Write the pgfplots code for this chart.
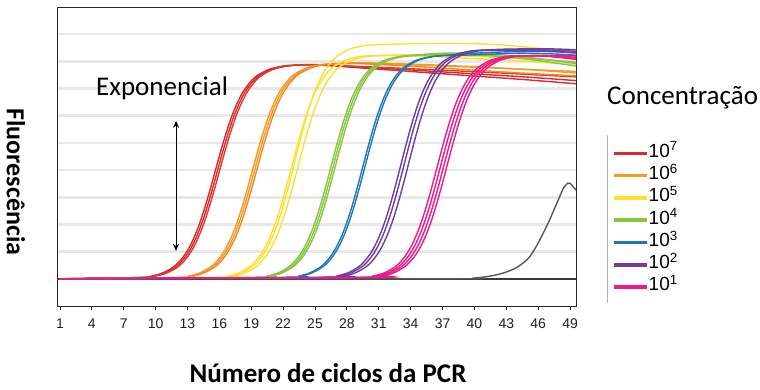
\documentclass[border=0pt]{standalone}
\usepackage{fontspec}
\setmainfont{Carlito}
\newfontfamily\arialfont{Liberation Sans}
\usepackage{pgfplots}
\pgfplotsset{compat=1.18}
\usetikzlibrary{arrows.meta}

\definecolor{cRed}{HTML}{DA2A2C}
\definecolor{cOrange}{HTML}{F29B26}
\definecolor{cYellow}{HTML}{FBE12C}
\definecolor{cGreen}{HTML}{8BC53F}
\definecolor{cBlue}{HTML}{1E78BE}
\definecolor{cPurple}{HTML}{6C3FA0}
\definecolor{cPink}{HTML}{EC1A8A}
\definecolor{cGrid}{HTML}{E8E8E8}
\definecolor{cNTC}{HTML}{3A3A3A}

\pgfplotsset{
  curve/.style={smooth, no marks, line width=1.4pt, forget plot},
}

\begin{document}
\begin{tikzpicture}[x=1pt,y=1pt]
\path[use as bounding box] (0pt,0pt) rectangle (760pt,390pt);
\begin{axis}[
  at={(57pt,84pt)}, anchor=south west,
  scale only axis, width=519pt, height=299pt,
  xmin=0.72, xmax=49.56, ymin=0, ymax=11,
  xtick={1,4,...,49}, xtick pos=bottom, tick align=outside,
  major tick length=4pt,
  ytick={1,...,10}, yticklabels={}, ytick style={draw=none},
  ymajorgrids, major grid style={cGrid, line width=2.5pt},
  axis line style={black!85, line width=0.8pt},
  xtick style={black!85, line width=0.8pt},
  /pgf/number format/assume math mode=true,
  xticklabel style={font=\arialfont\fontsize{14}{14}\selectfont, text=black!88, yshift=-5pt},
  legend image code/.code={\draw[#1] (0pt,0pt) -- (33pt,0pt);},
  legend cell align=left,
  legend style={at={(axis description cs:1.0694,0.5485)}, anchor=north west,
    draw=none, fill=none, inner sep=0pt, row sep=0pt,
    font=\arialfont\fontsize{19}{19}\selectfont,
    nodes={inner sep=0pt, text height=15pt, text depth=7.3pt}},
]
\addlegendimage{cRed, line width=3.5pt}
\addlegendimage{cOrange, line width=3.5pt}
\addlegendimage{cYellow, line width=3.5pt}
\addlegendimage{cGreen, line width=3.5pt}
\addlegendimage{cBlue, line width=3.5pt}
\addlegendimage{cPurple, line width=3.5pt}
\addlegendimage{cPink, line width=3.5pt}
\legend{10\textsuperscript{7},10\textsuperscript{6},10\textsuperscript{5},10\textsuperscript{4},10\textsuperscript{3},10\textsuperscript{2},10\textsuperscript{1}}

% no-template control: flat baseline and one late rise
\addplot[curve, cNTC, line width=1.6pt, smooth=false] coordinates {(0.5,0.99) (50,0.99)};
\addplot[curve, cNTC!85, line width=1.4pt] coordinates {(1,1) (38,1) (40,1.03) (41,1.07) (42,1.14) (43,1.25) (44,1.42) (45,1.72) (45.5,1.98) (46,2.32) (46.5,2.7) (47,3.1) (47.5,3.55) (48,4.0) (48.4,4.35) (48.8,4.52) (49.1,4.48) (49.4,4.33) (49.7,4.22)};

% 10^7
\addplot[curve, cRed] coordinates {(1,1) (8.6,1.049) (9.6,1.101) (10.6,1.205) (11.6,1.412) (12.1,1.580) (12.6,1.807) (13.1,2.109) (13.6,2.502) (14.1,2.992) (14.6,3.578) (15.1,4.242) (15.6,4.950) (16.1,5.658) (16.6,6.322) (17.1,6.908) (17.6,7.398) (18.1,7.791) (18.6,8.093) (19.1,8.320) (19.6,8.488) (20.6,8.695) (21.6,8.799) (22.6,8.851) (25,8.87) (30,8.74) (35,8.6) (40,8.46) (45,8.32) (50,8.16)};
\addplot[curve, cRed] coordinates {(1,1) (8.8,1.049) (9.8,1.101) (10.8,1.205) (11.8,1.412) (12.3,1.580) (12.8,1.807) (13.3,2.109) (13.8,2.502) (14.3,2.992) (14.8,3.578) (15.3,4.242) (15.8,4.950) (16.3,5.658) (16.8,6.322) (17.3,6.908) (17.8,7.398) (18.3,7.791) (18.8,8.093) (19.3,8.320) (19.8,8.488) (20.8,8.695) (21.8,8.799) (22.8,8.851) (25,8.88) (30,8.78) (35,8.66) (40,8.54) (45,8.42) (50,8.28)};
\addplot[curve, cRed!85!cOrange] coordinates {(1,1) (9,1.049) (10,1.101) (11,1.205) (12,1.412) (12.5,1.580) (13,1.807) (13.5,2.109) (14,2.502) (14.5,2.992) (15,3.578) (15.5,4.242) (16,4.950) (16.5,5.658) (17,6.322) (17.5,6.908) (18,7.398) (18.5,7.791) (19,8.093) (19.5,8.320) (20,8.488) (21,8.695) (22,8.799) (23,8.851) (25,8.87) (30,8.8) (35,8.71) (40,8.62) (45,8.52) (50,8.42)};

% 10^6
\addplot[curve, cOrange] coordinates {(1,1) (12.1,1.049) (13.1,1.102) (14.1,1.207) (15.1,1.415) (15.6,1.584) (16.1,1.812) (16.6,2.116) (17.1,2.511) (17.6,3.005) (18.1,3.594) (18.6,4.263) (19.1,4.975) (19.6,5.687) (20.1,6.356) (20.6,6.945) (21.1,7.439) (21.6,7.834) (22.1,8.138) (22.6,8.366) (23.1,8.535) (24.1,8.743) (25.1,8.848) (26.1,8.901) (29,8.93) (34,8.87) (39,8.8) (44,8.72) (50,8.62)};
\addplot[curve, cOrange] coordinates {(1,1) (12.3,1.049) (13.3,1.102) (14.3,1.207) (15.3,1.415) (15.8,1.584) (16.3,1.812) (16.8,2.116) (17.3,2.511) (17.8,3.005) (18.3,3.594) (18.8,4.263) (19.3,4.975) (19.8,5.687) (20.3,6.356) (20.8,6.945) (21.3,7.439) (21.8,7.834) (22.3,8.138) (22.8,8.366) (23.3,8.535) (24.3,8.743) (25.3,8.848) (26.3,8.901) (29,8.95) (34,8.9) (39,8.82) (44,8.72) (50,8.56)};
\addplot[curve, cOrange!85!cRed] coordinates {(1,1) (12.5,1.049) (13.5,1.102) (14.5,1.207) (15.5,1.415) (16,1.584) (16.5,1.812) (17,2.116) (17.5,2.511) (18,3.005) (18.5,3.594) (19,4.263) (19.5,4.975) (20,5.687) (20.5,6.356) (21,6.945) (21.5,7.439) (22,7.834) (22.5,8.138) (23,8.366) (23.5,8.535) (24.5,8.743) (25.5,8.848) (26.5,8.901) (29,8.92) (34,8.82) (39,8.7) (44,8.58) (50,8.46)};

% 10^5
\addplot[curve, cYellow] coordinates {(1,1) (16.1,1.054) (17.1,1.111) (18.1,1.225) (19.1,1.452) (19.6,1.635) (20.1,1.883) (20.6,2.214) (21.1,2.644) (21.6,3.182) (22.1,3.822) (22.6,4.550) (23.1,5.325) (23.6,6.100) (24.1,6.828) (24.6,7.468) (25.1,8.006) (25.6,8.436) (26.1,8.767) (26.6,9.015) (27.1,9.198) (28.1,9.425) (29.1,9.539) (30.1,9.596) (33,9.64) (38,9.66) (42,9.62) (45,9.52) (50,9.35)};
\addplot[curve, cYellow] coordinates {(1,1) (16.4,1.051) (17.4,1.106) (18.4,1.215) (19.4,1.431) (19.9,1.606) (20.4,1.842) (20.9,2.158) (21.4,2.568) (21.9,3.081) (22.4,3.692) (22.9,4.386) (23.4,5.125) (23.9,5.864) (24.4,6.558) (24.9,7.169) (25.4,7.682) (25.9,8.092) (26.4,8.408) (26.9,8.644) (27.4,8.819) (28.4,9.036) (29.4,9.144) (30.4,9.199) (34,9.24) (39,9.2) (44,9.1) (50,8.95)};
\addplot[curve, cYellow] coordinates {(1,1) (15.8,1.051) (16.8,1.106) (17.8,1.215) (18.8,1.431) (19.3,1.606) (19.8,1.842) (20.3,2.158) (20.8,2.568) (21.3,3.081) (21.8,3.692) (22.3,4.386) (22.8,5.125) (23.3,5.864) (23.8,6.558) (24.3,7.169) (24.8,7.682) (25.3,8.092) (25.8,8.408) (26.3,8.644) (26.8,8.819) (27.8,9.036) (28.8,9.144) (29.8,9.199) (33,9.22) (38,9.14) (43,9.04) (50,8.88)};

% 10^4
\addplot[curve, cGreen] coordinates {(1,1) (19.5,1.051) (20.5,1.106) (21.5,1.215) (22.5,1.431) (23,1.606) (23.5,1.842) (24,2.158) (24.5,2.568) (25,3.081) (25.5,3.692) (26,4.386) (26.5,5.125) (27,5.864) (27.5,6.558) (28,7.169) (28.5,7.682) (29,8.092) (29.5,8.408) (30,8.644) (30.5,8.819) (31.5,9.036) (32.5,9.144) (33.5,9.199) (37,9.3) (41,9.28) (45,9.15) (50,8.9)};
\addplot[curve, cGreen] coordinates {(1,1) (19.7,1.051) (20.7,1.106) (21.7,1.215) (22.7,1.431) (23.2,1.606) (23.7,1.842) (24.2,2.158) (24.7,2.568) (25.2,3.081) (25.7,3.692) (26.2,4.386) (26.7,5.125) (27.2,5.864) (27.7,6.558) (28.2,7.169) (28.7,7.682) (29.2,8.092) (29.7,8.408) (30.2,8.644) (30.7,8.819) (31.7,9.036) (32.7,9.144) (33.7,9.199) (37,9.27) (41,9.22) (45,9.08) (50,8.8)};
\addplot[curve, cGreen] coordinates {(1,1) (19.9,1.051) (20.9,1.106) (21.9,1.215) (22.9,1.431) (23.4,1.606) (23.9,1.842) (24.4,2.158) (24.9,2.568) (25.4,3.081) (25.9,3.692) (26.4,4.386) (26.9,5.125) (27.4,5.864) (27.9,6.558) (28.4,7.169) (28.9,7.682) (29.4,8.092) (29.9,8.408) (30.4,8.644) (30.9,8.819) (31.9,9.036) (32.9,9.144) (33.9,9.199) (37,9.25) (41,9.22) (45,9.12) (50,8.95)};

% 10^3
\addplot[curve, cBlue] coordinates {(1,1) (22.5,1.051) (23.5,1.106) (24.5,1.215) (25.5,1.431) (26,1.606) (26.5,1.842) (27,2.158) (27.5,2.568) (28,3.081) (28.5,3.692) (29,4.386) (29.5,5.125) (30,5.864) (30.5,6.558) (31,7.169) (31.5,7.682) (32,8.092) (32.5,8.408) (33,8.644) (33.5,8.819) (34.5,9.036) (35.5,9.144) (36.5,9.199) (40,9.3) (44,9.36) (47,9.36) (50,9.3)};
\addplot[curve, cBlue] coordinates {(1,1) (22.7,1.051) (23.7,1.106) (24.7,1.215) (25.7,1.431) (26.2,1.606) (26.7,1.842) (27.2,2.158) (27.7,2.568) (28.2,3.081) (28.7,3.692) (29.2,4.386) (29.7,5.125) (30.2,5.864) (30.7,6.558) (31.2,7.169) (31.7,7.682) (32.2,8.092) (32.7,8.408) (33.2,8.644) (33.7,8.819) (34.7,9.036) (35.7,9.144) (36.7,9.199) (40,9.24) (44,9.3) (47,9.28) (50,9.22)};

% 10^2
\addplot[curve, cPurple] coordinates {(1,1) (26.1,1.053) (27.1,1.108) (28.1,1.220) (29.1,1.441) (29.6,1.620) (30.1,1.863) (30.6,2.186) (31.1,2.606) (31.6,3.131) (32.1,3.757) (32.6,4.468) (33.1,5.225) (33.6,5.982) (34.1,6.693) (34.6,7.319) (35.1,7.844) (35.6,8.264) (36.1,8.587) (36.6,8.830) (37.1,9.009) (38.1,9.230) (39.1,9.342) (40.1,9.398) (43,9.45) (47,9.46) (50,9.42)};
\addplot[curve, cPurple] coordinates {(1,1) (26.4,1.053) (27.4,1.108) (28.4,1.220) (29.4,1.441) (29.9,1.620) (30.4,1.863) (30.9,2.186) (31.4,2.606) (31.9,3.131) (32.4,3.757) (32.9,4.468) (33.4,5.225) (33.9,5.982) (34.4,6.693) (34.9,7.319) (35.4,7.844) (35.9,8.264) (36.4,8.587) (36.9,8.830) (37.4,9.009) (38.4,9.230) (39.4,9.342) (40.4,9.398) (43,9.43) (47,9.42) (50,9.36)};
\addplot[curve, cPurple] coordinates {(1,1) (26.8,1.053) (27.8,1.108) (28.8,1.220) (29.8,1.441) (30.3,1.620) (30.8,1.863) (31.3,2.186) (31.8,2.606) (32.3,3.131) (32.8,3.757) (33.3,4.468) (33.8,5.225) (34.3,5.982) (34.8,6.693) (35.3,7.319) (35.8,7.844) (36.3,8.264) (36.8,8.587) (37.3,8.830) (37.8,9.009) (38.8,9.230) (39.8,9.342) (40.8,9.398) (44,9.4) (47,9.38) (50,9.3)};

% 10^1
\addplot[curve, cPink] coordinates {(1,1) (29.5,1.051) (30.5,1.106) (31.5,1.215) (32.5,1.431) (33,1.606) (33.5,1.842) (34,2.158) (34.5,2.568) (35,3.081) (35.5,3.692) (36,4.386) (36.5,5.125) (37,5.864) (37.5,6.558) (38,7.169) (38.5,7.682) (39,8.092) (39.5,8.408) (40,8.644) (40.5,8.819) (41.5,9.036) (42.5,9.144) (43.5,9.199) (46,9.22) (50,9.2)};
\addplot[curve, cPink] coordinates {(1,1) (29.8,1.051) (30.8,1.106) (31.8,1.215) (32.8,1.431) (33.3,1.606) (33.8,1.842) (34.3,2.158) (34.8,2.568) (35.3,3.081) (35.8,3.692) (36.3,4.386) (36.8,5.125) (37.3,5.864) (37.8,6.558) (38.3,7.169) (38.8,7.682) (39.3,8.092) (39.8,8.408) (40.3,8.644) (40.8,8.819) (41.8,9.036) (42.8,9.144) (43.8,9.199) (46,9.2) (50,9.15)};
\addplot[curve, cPink] coordinates {(1,1) (30.1,1.051) (31.1,1.106) (32.1,1.215) (33.1,1.431) (33.6,1.606) (34.1,1.842) (34.6,2.158) (35.1,2.568) (35.6,3.081) (36.1,3.692) (36.6,4.386) (37.1,5.125) (37.6,5.864) (38.1,6.558) (38.6,7.169) (39.1,7.682) (39.6,8.092) (40.1,8.408) (40.6,8.644) (41.1,8.819) (42.1,9.036) (43.1,9.144) (44.1,9.199) (47,9.2) (50,9.1)};
\addplot[curve, cPink] coordinates {(1,1) (30.4,1.051) (31.4,1.106) (32.4,1.215) (33.4,1.431) (33.9,1.606) (34.4,1.842) (34.9,2.158) (35.4,2.568) (35.9,3.081) (36.4,3.692) (36.9,4.386) (37.4,5.125) (37.9,5.864) (38.4,6.558) (38.9,7.169) (39.4,7.682) (39.9,8.092) (40.4,8.408) (40.9,8.644) (41.4,8.819) (42.4,9.036) (43.4,9.144) (44.4,9.199) (47,9.18) (50,9.05)};

% exponential phase annotation
\draw[black, line width=0.7pt, {Stealth[length=7pt,width=6pt]}-{Stealth[length=7pt,width=6pt]}]
  (axis cs:11.92,2.03) -- (axis cs:11.92,6.81);
\node[anchor=base west, inner sep=0pt, font=\fontsize{27}{27}\selectfont] at (axis cs:4.39,7.73) {Exponencial};
\end{axis}

% legend rule and titles
\draw[gray!60, line width=0.8pt] (607pt,255pt) -- (607pt,87pt);
\node[anchor=base west, inner sep=0pt, font=\fontsize{27}{27}\selectfont] at (607pt,285pt) {Concentração};
\node[anchor=base, inner sep=0pt, font=\bfseries\fontsize{27}{27}\selectfont] at (328pt,7pt) {Número de ciclos da PCR};
\node[rotate=-90, inner sep=0pt, font=\bfseries\fontsize{26}{26}\selectfont] at (16pt,208pt) {Fluorescência};
\end{tikzpicture}
\end{document}
